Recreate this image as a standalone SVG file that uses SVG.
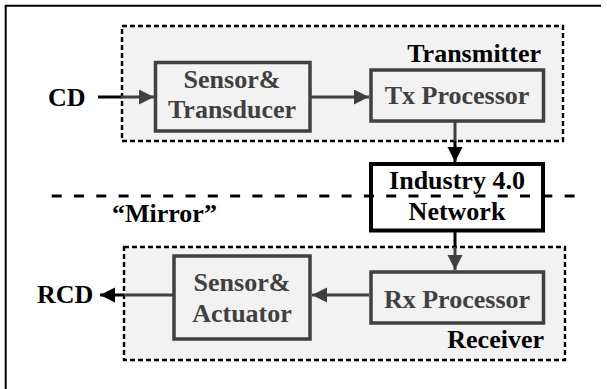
<svg xmlns="http://www.w3.org/2000/svg" width="607" height="389" viewBox="0 0 607 389">
<defs>
<style>
text{font-family:"Liberation Serif","Times New Roman",serif;font-weight:bold;font-size:26px}
.lbl{fill:#000}
.in{fill:#404040}
.grp{fill:#f2f2f2;stroke:#000;stroke-width:2.4;stroke-dasharray:5 3}
.box{fill:#f2f2f2;stroke:#404040;stroke-width:3.5}
.g{stroke:#404040;stroke-width:3;fill:none}
.k{stroke:#000;stroke-width:3;fill:none}
</style>
<marker id="ag" markerUnits="userSpaceOnUse" markerWidth="16" markerHeight="16" refX="15" refY="7.5" orient="auto"><path d="M0 0 L15 7.5 L0 15 Z" fill="#404040"/></marker>
<marker id="ak" markerUnits="userSpaceOnUse" markerWidth="16" markerHeight="16" refX="15" refY="7.5" orient="auto"><path d="M0 0 L15 7.5 L0 15 Z" fill="#000"/></marker>
</defs>
<rect width="607" height="389" fill="#fff"/>
<path d="M5.7 389 V5.7 H601" fill="none" stroke="#000" stroke-width="2"/>

<g id="transmitter">
<rect class="grp" x="122" y="26" width="441" height="115"/>
<text class="lbl" x="541" y="62" text-anchor="end">Transmitter</text>
</g>
<g id="receiver">
<rect class="grp" x="124" y="247" width="441" height="113"/>
<text class="lbl" x="544" y="348" text-anchor="end">Receiver</text>
</g>

<g id="sensor-transducer">
<rect class="box" x="155.5" y="62.5" width="154.5" height="68.5"/>
<text class="in" x="232" y="88" text-anchor="middle">Sensor&amp;</text>
<text class="in" x="232" y="118" text-anchor="middle">Transducer</text>
</g>
<g id="tx-processor">
<rect class="box" x="371" y="70" width="172.5" height="51"/>
<text class="in" x="457" y="104" text-anchor="middle">Tx Processor</text>
</g>
<g id="sensor-actuator">
<rect class="box" x="174" y="256" width="136" height="83"/>
<text class="in" x="242" y="291" text-anchor="middle">Sensor&amp;</text>
<text class="in" x="242" y="322" text-anchor="middle">Actuator</text>
</g>
<g id="rx-processor">
<rect class="box" x="371" y="272" width="172.5" height="51"/>
<text class="in" x="457" y="308" text-anchor="middle">Rx Processor</text>
</g>

<g id="network">
<rect x="371" y="164" width="172" height="66.5" fill="#fff" stroke="#000" stroke-width="4"/>
</g>
<g id="mirror-line">
<line x1="51.7" y1="196" x2="580" y2="196" stroke="#000" stroke-width="2.8" stroke-dasharray="10 12.3"/>
<text class="lbl" x="112" y="222">“Mirror”</text>
</g>
<g id="network-label">
<text class="lbl" x="457" y="189" text-anchor="middle">Industry 4.0</text>
<text class="lbl" x="457" y="220" text-anchor="middle">Network</text>
</g>

<g id="cd"><text class="lbl" x="48" y="106">CD</text></g>
<g id="rcd"><text class="lbl" x="37" y="303">RCD</text></g>

<g id="connectors">
<line class="k" x1="98" y1="97" x2="122" y2="97"/>
<line class="g" x1="121" y1="97" x2="154" y2="97" marker-end="url(#ag)"/>
<line class="g" x1="311" y1="97" x2="369" y2="97" marker-end="url(#ag)"/>
<line class="g" x1="455" y1="122" x2="455" y2="142"/>
<line class="k" x1="455" y1="141" x2="455" y2="162" marker-end="url(#ak)"/>
<line class="k" x1="455" y1="232" x2="455" y2="248"/>
<line class="g" x1="455" y1="247" x2="455" y2="270" marker-end="url(#ag)"/>
<line class="g" x1="369" y1="295" x2="312" y2="295" marker-end="url(#ag)"/>
<line class="g" x1="173" y1="295" x2="123" y2="295"/>
<line class="k" x1="124" y1="295" x2="100" y2="295" marker-end="url(#ak)"/>
</g>
</svg>
